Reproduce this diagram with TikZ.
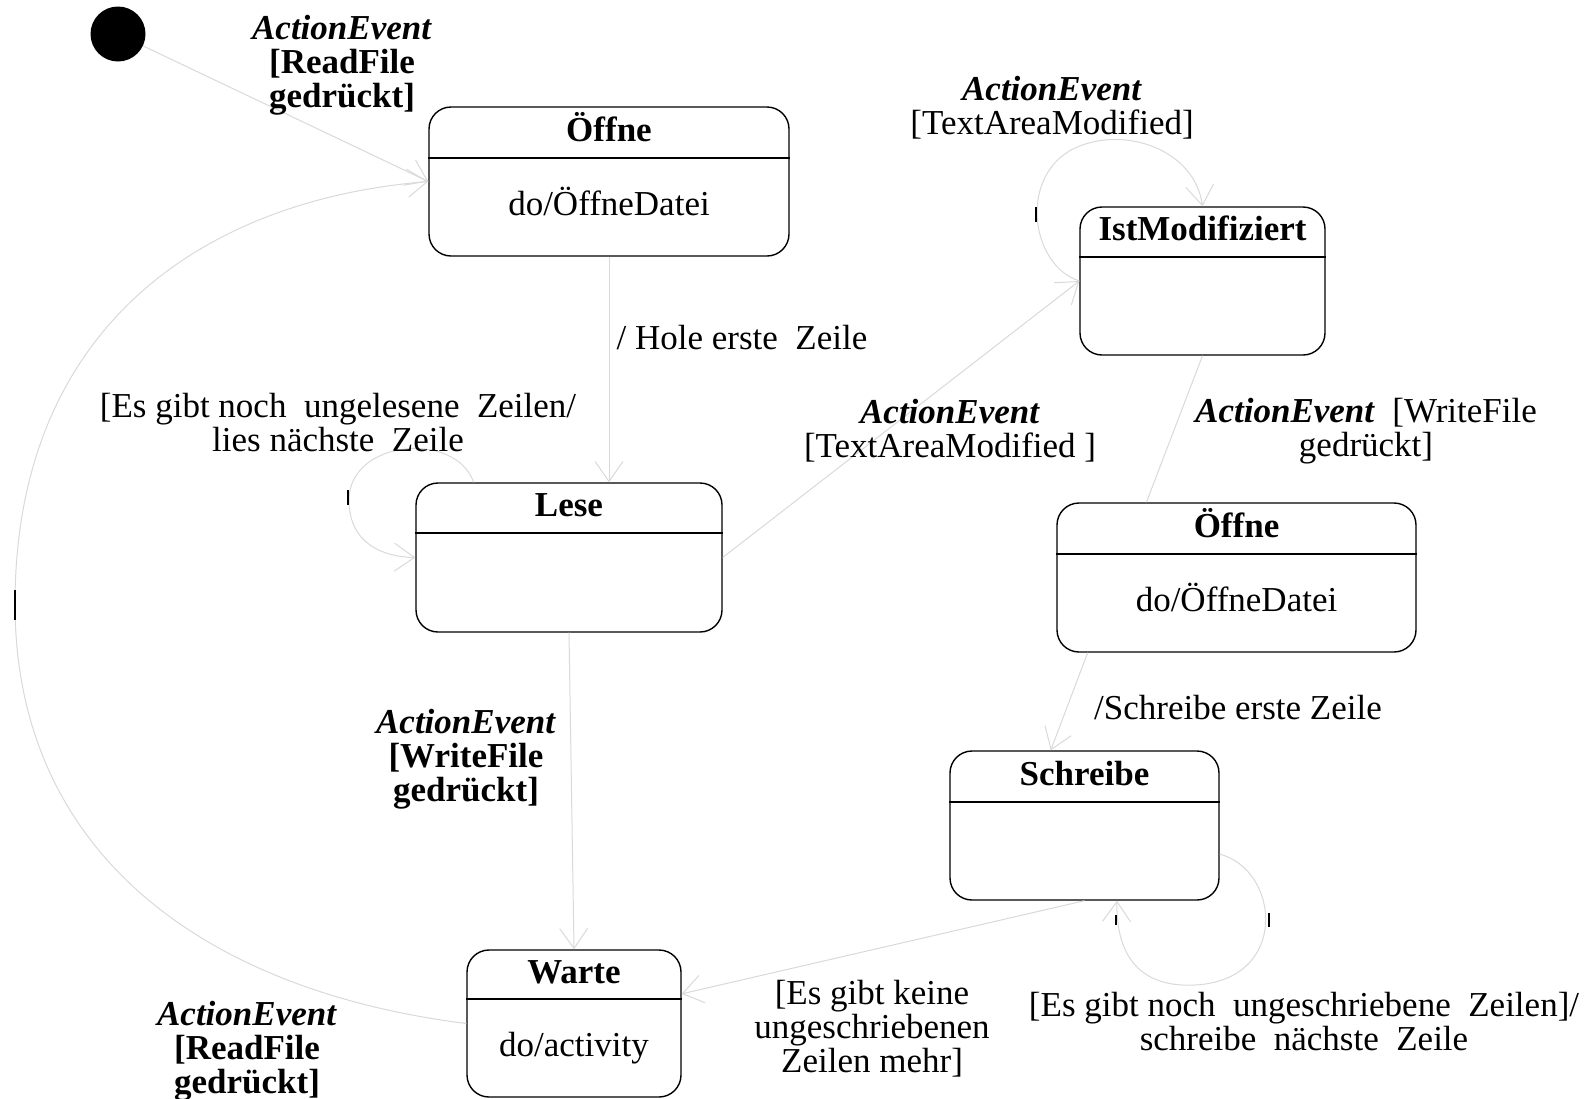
\documentclass[tikz,border=0pt]{standalone}
\usepackage{fontspec}
\setmainfont{Liberation Serif}
\usetikzlibrary{arrows.meta, calc, fit, positioning}
\tikzset{
    stateBox/.style={draw, line width=0.7pt, rounded corners=11pt, inner sep=0pt},
    stateLine/.style={line width=0.7pt},
    initDot/.style={circle, fill=black, inner sep=0pt, minimum size=27.5pt},
    trans/.style={-{Straight Barb[length=10pt, width=14pt]}, draw=black!15, line width=0.5pt},
    transPlain/.style={draw=black!15, line width=0.5pt},
    lbl/.style={align=center, inner sep=0pt, font=\fontsize{17.5}{17}\selectfont},
    titleLbl/.style={lbl, font=\fontsize{17.5}{17}\selectfont\bfseries},
    markTick/.style={line width=0.8pt},
}
% name, x1, y1, x2, y2, divider, title, body
\newcommand{\drawState}[8]{
    \node[stateBox, fit={(#2,#3) (#4,#5)}] (#1) {};
    \draw[stateLine] (#1.west |- 0,#6) -- (#1.east |- 0,#6);
    \node[titleLbl, anchor=base] (#1-title) at ($(#1.north)!0.5!(#1.north |- 0,#6) + (0,9)$) {#7};
    \node[lbl, anchor=base] (#1-body) at ($(#1.south)!0.5!(#1.south |- 0,#6) + (0,8)$) {#8};
}
\newcommand{\evt}{\textbf{\textit{ActionEvent}}}

\begin{document}
\begin{tikzpicture}[x=0.5pt, y=-0.5pt]
    \useasboundingbox (0,0) rectangle (1594,1098);

    \node[initDot] (init) at (118,34) {};

    \drawState{oeffneA}{429}{107}{789}{256}{158}{Öffne}{do/ÖffneDatei}
    \drawState{istMod}{1080}{207}{1325}{355}{257}{IstModifiziert}{}
    \drawState{lese}{416}{483}{722}{632}{533}{Lese}{}
    \drawState{oeffneB}{1057}{503}{1416}{652}{554}{Öffne}{do/ÖffneDatei}
    \drawState{schreibe}{950}{751}{1219}{900}{802}{Schreibe}{}
    \drawState{warte}{467}{950}{681}{1097}{999}{Warte}{do/activity}

    % transitions
    \draw[trans] (init) -- (oeffneA.west);
    \draw[trans] (warte.west) .. controls (200,990) and (15,850) .. (15,604)
        .. controls (15,330) and (200,200) .. (oeffneA.west);
    \draw[trans] (oeffneA.south) -- (oeffneA.south |- lese.north);
    \draw[trans] ($(lese.north west)!0.19!(lese.north east)$) .. controls (455,430) and (349,440) .. (349,500)
        .. controls (349,545) and (385,557) .. (lese.west);
    \draw[trans] (lese.east) -- (istMod.west);
    \draw[trans] (istMod.west) .. controls (1030,265) and (1018,175) .. (1075,148)
        .. controls (1125,125) and (1195,150) .. (istMod.north);
    \draw[transPlain] (istMod.south) -- ($(oeffneB.north west)!0.25!(oeffneB.north east)$);
    \draw[trans] ($(oeffneB.south west)!0.087!(oeffneB.south east)$) -- ($(schreibe.north west)!0.375!(schreibe.north east)$);
    \draw[trans] ($(schreibe.north east)!0.69!(schreibe.south east)$) .. controls (1280,870) and (1290,980) .. (1195,985)
        .. controls (1135,988) and (1116,950) .. ($(schreibe.south west)!0.62!(schreibe.south east)$);
    \draw[trans] (schreibe.south) -- ($(warte.north east)!0.3!(warte.south east)$);
    \draw[trans] (lese.south) -- (warte.north);

    % labels
    \node[lbl] (lblInit) at (342,65) {\evt\\\textbf{[ReadFile}\\\textbf{gedrückt]}};
    \node[lbl] (lblReturn) at (247,1051) {\evt\\\textbf{[ReadFile}\\\textbf{gedrückt]}};
    \node[lbl] (lblHole) at (742,338) {/ Hole erste\ \ Zeile};
    \node[lbl] (lblLeseLoop) at (338,423) {[Es gibt noch\ \ ungelesene\ \ Zeilen/\\lies nächste\ \ Zeile};
    \node[lbl] (lblModA) at (950,431) {\evt\\{[}TextAreaModified ]};
    \node[lbl] (lblModLoop) at (1052,108) {\evt\\{[}TextAreaModified]};
    \node[lbl] (lblWriteB) at (1366,431) {\evt\ \ [WriteFile\\gedrückt]};
    \node[lbl] (lblSchreibeErste) at (1238,708) {/Schreibe erste Zeile};
    \node[lbl] (lblSchreibeLoop) at (1304,1022) {[Es gibt noch\ \ ungeschriebene\ \ Zeilen]/\\schreibe\ \ nächste\ \ Zeile};
    \node[lbl] (lblKeine) at (872,1029) {[Es gibt keine\\ungeschriebenen\\Zeilen mehr]};
    \node[lbl] (lblWriteA) at (466,759) {\evt\\\textbf{[WriteFile}\\\textbf{gedrückt]}};

    % marks on the curves
    \draw[markTick] (348,490) -- (348,505);
    \draw[markTick] (1036,207) -- (1036,222);
    \draw[markTick] (15,590) -- (15,620);
    \draw[markTick] (1116,915) -- (1116,925);
    \draw[markTick] (1269,913) -- (1269,927);

\end{tikzpicture}
\end{document}
